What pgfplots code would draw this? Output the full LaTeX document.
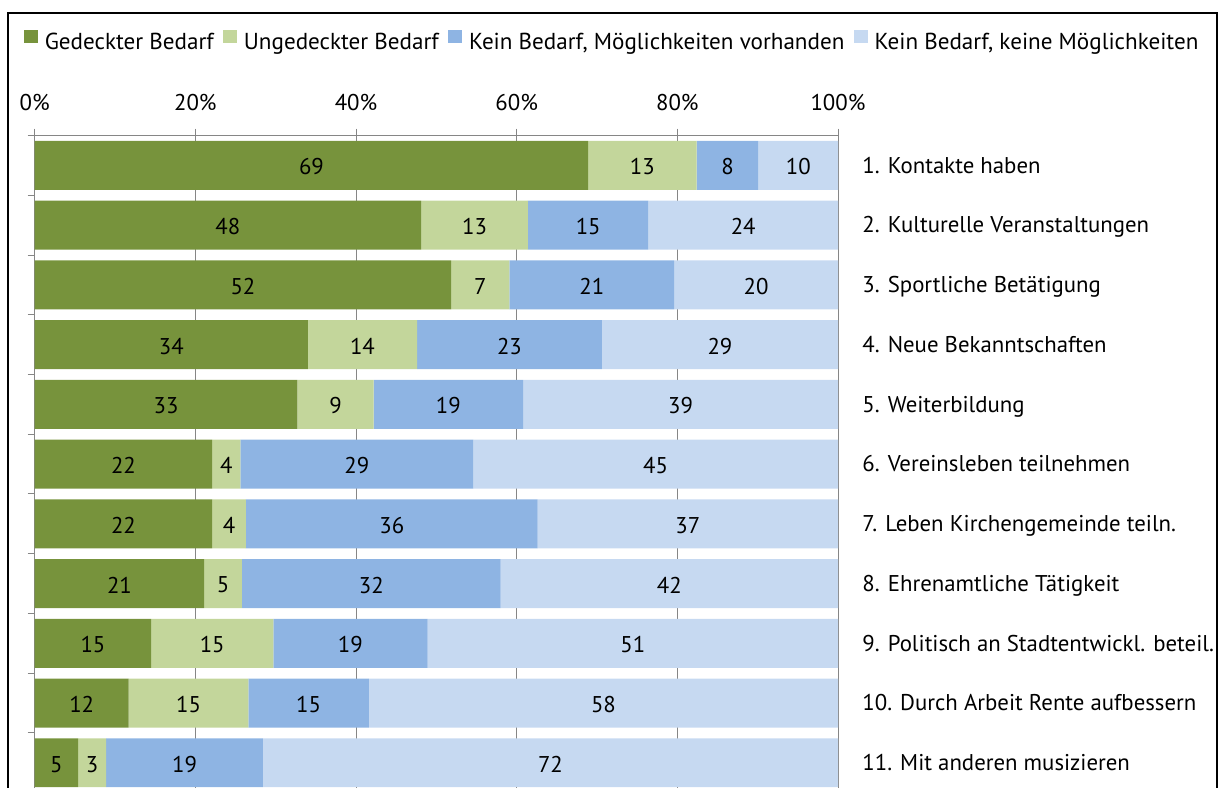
\documentclass[border=0pt]{standalone}
\usepackage{fontspec}
\setmainfont{PT Sans}
\usepackage{pgfplots}
\usepackage{pgfplotstable}
\pgfplotsset{compat=1.18}
\definecolor{cA}{HTML}{77933C}
\definecolor{cB}{HTML}{C3D69B}
\definecolor{cC}{HTML}{8EB4E3}
\definecolor{cD}{HTML}{C6D9F1}
\definecolor{axgray}{HTML}{868686}
\pgfplotstableread{
row a b c d la lb lc ld
1 68.9 13.5 7.7 9.9 69 13 8 10
2 48.1 13.3 15.0 23.6 48 13 15 24
3 51.85 7.25 20.5 20.4 52 7 21 20
4 34.0 13.6 23.0 29.4 34 14 23 29
5 32.7 9.5 18.6 39.2 33 9 19 39
6 22.1 3.5 29.0 45.4 22 4 29 45
7 22.1 4.2 36.3 37.4 22 4 36 37
8 21.1 4.7 32.2 42.0 21 5 32 42
9 14.5 15.2 19.2 51.1 15 15 19 51
10 11.7 14.9 15.0 58.4 12 15 15 58
11 5.4 3.5 19.5 71.6 5 3 19 72
}\data
% label positions: middle of each stacked segment
\pgfplotstablecreatecol[expr={\thisrow{a}/2}]{ma}\data
\pgfplotstablecreatecol[expr={\thisrow{a}+\thisrow{b}/2}]{mb}\data
\pgfplotstablecreatecol[expr={\thisrow{a}+\thisrow{b}+\thisrow{c}/2}]{mc}\data
\pgfplotstablecreatecol[expr={\thisrow{a}+\thisrow{b}+\thisrow{c}+\thisrow{d}/2}]{md}\data
\pgfplotsset{
  common/.style={
    at={(17.35pt,-2.8pt)}, anchor=south west,
    scale only axis, width=401.65pt, height=328.5pt,
    xmin=0, xmax=100, ymin=0.5, ymax=11.5, y dir=reverse, clip=false,
  }
}
\begin{document}
\fontsize{11.4}{13.6}\selectfont
\begin{tikzpicture}[font=\fontsize{11.4}{13.6}\selectfont]
\useasboundingbox (0,0) rectangle (609.5pt,393.5pt);
\clip (0,0) rectangle (609.5pt,393.5pt);
\draw[line width=0.6pt] (4pt,-10pt) -- (4pt,387pt) -- (608.5pt,387pt) -- (608.5pt,-10pt);
\begin{axis}[
  common,
  xbar stacked, bar width=0.82,
  axis line style={axgray, line width=0.5pt},
  xtick={0,20,...,100}, xtick pos=right, xticklabel pos=right,
  xticklabel={\pgfmathprintnumber{\tick}\%},
  /pgf/number format/assume math mode=true,
  xticklabel style={anchor=base, inner sep=0pt, yshift=9.3pt},
  ytick={0.5,1.5,...,11.5}, ytick pos=left, yticklabels={},
  tick align=outside, major tick length=3.5pt,
  tick style={axgray, line width=0.5pt},
  xmajorgrids, grid style={axgray, line width=0.5pt},
  legend columns=4,
  legend image code/.code={\path[#1,draw=none] (0pt,-0.3pt) rectangle (7pt,6.1pt);},
  legend style={draw=none, fill=none, inner sep=0pt, outer sep=0pt,
     at={(axis description cs:0,1)}, anchor=west, xshift=-5.35pt, yshift=47.1pt,
     font=\fontsize{11.55}{13.8}\selectfont,
     nodes={inner sep=0pt},
     /tikz/every odd column/.append style={column sep=3.4pt},
     /tikz/every even column/.append style={column sep=4.7pt}},
]
\addplot[fill=cA, draw=none] table[x=a, y=row]{\data};
\addlegendentry{Gedeckter Bedarf}
\addplot[fill=cB, draw=none] table[x=b, y=row]{\data};
\addlegendentry{Ungedeckter Bedarf}
\addplot[fill=cC, draw=none] table[x=c, y=row]{\data};
\addlegendentry{Kein Bedarf, Möglichkeiten vorhanden}
\addplot[fill=cD, draw=none] table[x=d, y=row]{\data};
\addlegendentry{Kein Bedarf, keine Möglichkeiten}
\node[anchor=base west, inner sep=0pt, xshift=12pt, yshift=-3.9pt] at (axis cs:100,1) {1. Kontakte haben};
\node[anchor=base west, inner sep=0pt, xshift=12pt, yshift=-3.9pt] at (axis cs:100,2) {2. Kulturelle Veranstaltungen};
\node[anchor=base west, inner sep=0pt, xshift=12pt, yshift=-3.9pt] at (axis cs:100,3) {3. Sportliche Betätigung};
\node[anchor=base west, inner sep=0pt, xshift=12pt, yshift=-3.9pt] at (axis cs:100,4) {4. Neue Bekanntschaften};
\node[anchor=base west, inner sep=0pt, xshift=12pt, yshift=-3.9pt] at (axis cs:100,5) {5. Weiterbildung};
\node[anchor=base west, inner sep=0pt, xshift=12pt, yshift=-3.9pt] at (axis cs:100,6) {6. Vereinsleben teilnehmen};
\node[anchor=base west, inner sep=0pt, xshift=12pt, yshift=-3.9pt] at (axis cs:100,7) {7. Leben Kirchengemeinde teiln.};
\node[anchor=base west, inner sep=0pt, xshift=12pt, yshift=-3.9pt] at (axis cs:100,8) {8. Ehrenamtliche Tätigkeit};
\node[anchor=base west, inner sep=0pt, xshift=12pt, yshift=-3.9pt] at (axis cs:100,9) {9. Politisch an Stadtentwickl. beteil.};
\node[anchor=base west, inner sep=0pt, xshift=12pt, yshift=-3.9pt] at (axis cs:100,10) {10. Durch Arbeit Rente aufbessern};
\node[anchor=base west, inner sep=0pt, xshift=12pt, yshift=-3.9pt] at (axis cs:100,11) {11. Mit anderen musizieren};
\end{axis}
\begin{axis}[
  common, hide axis,
  nodes near coords, point meta=explicit symbolic,
  every node near coord/.append style={anchor=center, inner sep=0pt, text=black, yshift=-0.75pt},
]
\addplot[draw=none, mark=none] table[x=ma, y=row, meta=la]{\data};
\addplot[draw=none, mark=none] table[x=mb, y=row, meta=lb]{\data};
\addplot[draw=none, mark=none] table[x=mc, y=row, meta=lc]{\data};
\addplot[draw=none, mark=none] table[x=md, y=row, meta=ld]{\data};
\end{axis}
\end{tikzpicture}
\end{document}
